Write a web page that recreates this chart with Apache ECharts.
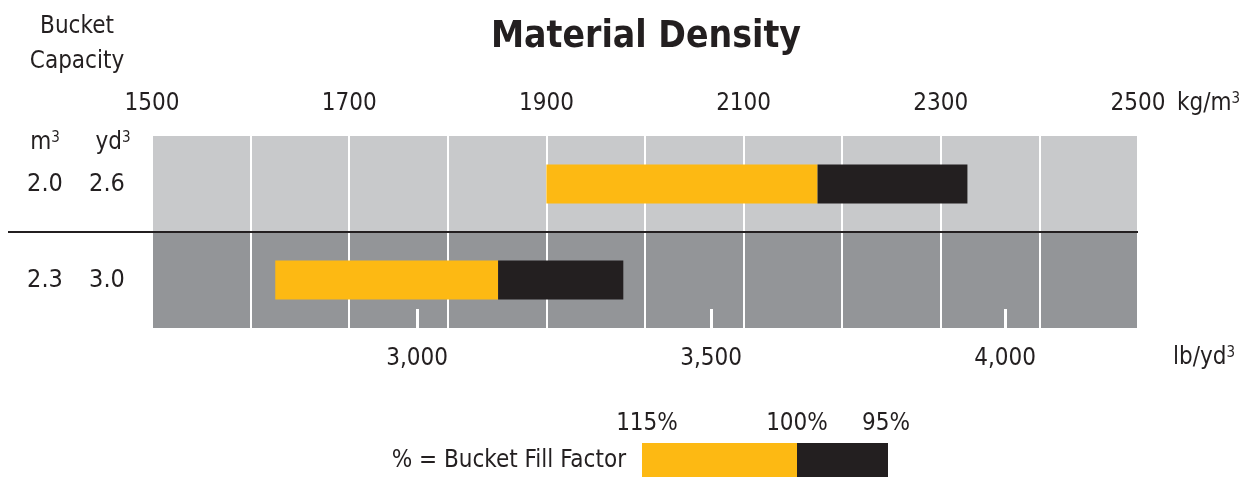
<!DOCTYPE html>
<html>
<head>
<meta charset="utf-8">
<script src="https://cdn.jsdelivr.net/npm/echarts@6/dist/echarts.min.js"></script>
<style>
html,body{margin:0;padding:0;background:#fff;}
#chart{width:1246px;height:477px;}
</style>
</head>
<body>
<div id="chart"></div>
<script>
// ---- data ----
const capacityM3 = ['2.0', '2.3'];
const capacityYd3 = ['2.6', '3.0'];
const density115 = [1900, 1625];   // kg/m3 at 115% fill factor
const density100 = [2175, 1851];   // kg/m3 at 100% fill factor
const density95  = [2327, 1978];   // kg/m3 at 95% fill factor
const kgTickLabels = [1500, 1700, 1900, 2100, 2300, 2500];
const lbTickValues = [3000, 3500, 4000];
const fillLabels = ['115%', '100%', '95%'];

const FONT = '"Liberation Sans Narrow", "DejaVu Sans Condensed", "Roboto", sans-serif';
const INK = '#231f20';
const YELLOW = '#fdb913';
const BLACK = '#231f20';
const FS = 24;

const chart = echarts.init(document.getElementById('chart'), null, {renderer: 'canvas'});

const yellowLen = density100.map((v, i) => v - density115[i]);
const blackLen = density95.map((v, i) => v - density100[i]);

const sup = {fontFamily: FONT, fontSize: 15, color: INK, verticalAlign: 'top', lineHeight: 12};

const option = {
  backgroundColor: '#ffffff',
  animation: false,
  title: [{
    text: 'Material Density',
    left: 641, top: 14, textAlign: 'center',
    textStyle: {fontFamily: FONT, fontWeight: 'bold', fontSize: 37, color: INK}
  }],
  grid: {left: 152, right: 108, top: 136, bottom: 149, containLabel: false},
  xAxis: [{
    type: 'value', position: 'top', min: 1500, max: 2500, interval: 100,
    axisLine: {show: false}, axisTick: {show: false},
    axisLabel: {
      margin: 20, color: INK, fontFamily: FONT, fontSize: FS,
      formatter: v => kgTickLabels.indexOf(v) >= 0 ? String(v) : ''
    },
    splitLine: {show: true, lineStyle: {color: '#ffffff', width: 2}}
  }, {
    type: 'value', position: 'bottom', min: 2549, max: 4226,
    axisLine: {show: false},
    axisTick: {show: true, inside: true, length: 19, customValues: lbTickValues,
      lineStyle: {color: '#ffffff', width: 3}},
    axisLabel: {show: true, margin: 19, color: INK, fontFamily: FONT, fontSize: FS,
      customValues: lbTickValues,
      formatter: v => v.toLocaleString('en-US')},
    splitLine: {show: false}
  }],
  yAxis: {
    type: 'category', inverse: true, data: capacityM3,
    axisLine: {show: false}, axisTick: {show: false},
    splitArea: {show: true, areaStyle: {color: ['#c8c9cb', '#939598']}},
    splitLine: {show: false},
    axisLabel: {
      margin: 28,
      formatter: (v, i) => '{a|' + capacityM3[i] + '}{b|' + capacityYd3[i] + '}',
      rich: {
        a: {width: 90, align: 'center', fontFamily: FONT, fontSize: 25, color: INK},
        b: {width: 34, align: 'center', fontFamily: FONT, fontSize: 25, color: INK}
      }
    }
  },
  series: [{
    type: 'bar', stack: 'd', xAxisIndex: 0, barWidth: 39, silent: true,
    itemStyle: {color: 'rgba(0,0,0,0)'}, data: density115
  }, {
    name: '115%-100%', type: 'bar', stack: 'd', xAxisIndex: 0, barWidth: 39, silent: true,
    itemStyle: {color: YELLOW}, data: yellowLen
  }, {
    name: '100%-95%', type: 'bar', stack: 'd', xAxisIndex: 0, barWidth: 39, silent: true,
    itemStyle: {color: BLACK}, data: blackLen
  }],
  graphic: [
    {type: 'line', shape: {x1: 8, y1: 232, x2: 1138, y2: 232}, style: {stroke: INK, lineWidth: 2}, z: 10},
    {type: 'text', x: 77, y: 44, style: {text: 'Bucket\nCapacity', fontFamily: FONT, fontSize: FS, lineHeight: 35,
      fill: INK, align: 'center', verticalAlign: 'middle'}},
    {type: 'text', x: 45, y: 143, style: {text: 'm{s|3}', fontFamily: FONT, fontSize: FS, fill: INK,
      align: 'center', verticalAlign: 'middle', rich: {s: sup}}},
    {type: 'text', x: 113, y: 143, style: {text: 'yd{s|3}', fontFamily: FONT, fontSize: FS, fill: INK,
      align: 'center', verticalAlign: 'middle', rich: {s: sup}}},
    {type: 'text', x: 1177, y: 104, style: {text: 'kg/m{s|3}', fontFamily: FONT, fontSize: FS, fill: INK,
      align: 'left', verticalAlign: 'middle', rich: {s: sup}}},
    {type: 'text', x: 1173, y: 358, style: {text: 'lb/yd{s|3}', fontFamily: FONT, fontSize: FS, fill: INK,
      align: 'left', verticalAlign: 'middle', rich: {s: sup}}},
    {type: 'text', x: 626, y: 461, style: {text: '% = Bucket Fill Factor', fontFamily: FONT, fontSize: FS, fill: INK,
      align: 'right', verticalAlign: 'middle'}},
    {type: 'rect', shape: {x: 642, y: 443, width: 155, height: 34}, style: {fill: YELLOW}},
    {type: 'rect', shape: {x: 797, y: 443, width: 91, height: 34}, style: {fill: BLACK}},
    {type: 'text', x: 647, y: 424, style: {text: fillLabels[0], fontFamily: FONT, fontSize: FS, fill: INK,
      align: 'center', verticalAlign: 'middle'}},
    {type: 'text', x: 797, y: 424, style: {text: fillLabels[1], fontFamily: FONT, fontSize: FS, fill: INK,
      align: 'center', verticalAlign: 'middle'}},
    {type: 'text', x: 886, y: 424, style: {text: fillLabels[2], fontFamily: FONT, fontSize: FS, fill: INK,
      align: 'center', verticalAlign: 'middle'}}
  ]
};
chart.setOption(option);
</script>
</body>
</html>
